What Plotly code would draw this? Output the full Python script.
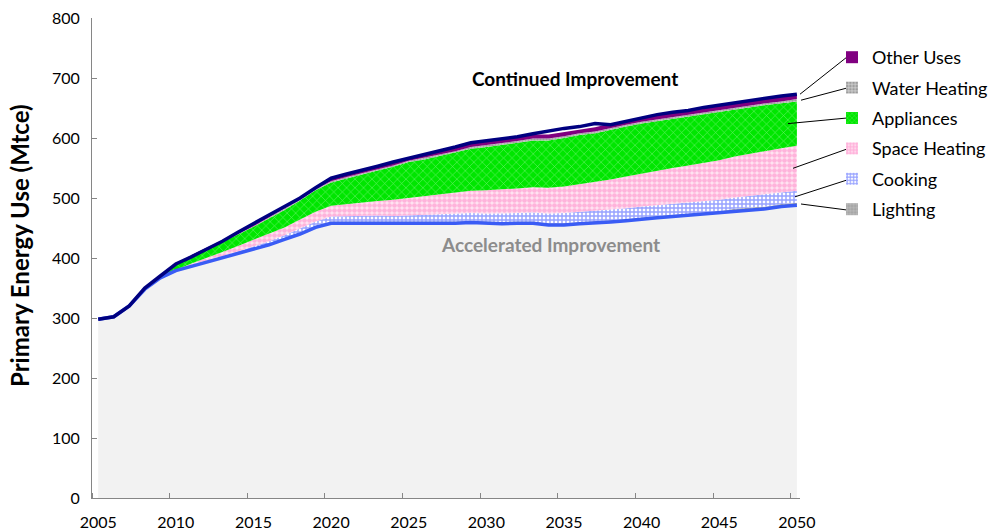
import plotly.graph_objects as go

years = list(range(2005, 2051))

accelerated = [298, 302, 320, 348, 367, 379, 386, 393, 400, 407,
               414, 422, 431, 440, 451, 458, 458, 458, 458, 457,
               457, 457, 457, 458, 459, 458, 457, 458, 458, 455,
               455, 457, 458, 460, 462, 465, 467, 469, 471, 473,
               475, 478, 480, 482, 486, 488]
lighting = [0, 0, 0, 0, 0, 0, 1, 1, 1, 2,
            2, 2, 2, 3, 3, 3, 3, 3, 3, 3,
            3, 3, 3, 3, 3, 3, 3, 3, 3, 3,
            3, 3, 3, 3, 3, 3, 3, 3, 3, 3,
            3, 4, 4, 4, 4, 4]
cooking = [0, 0, 0, 0, 0, 0, 1, 1, 2, 2,
           3, 4, 5, 6, 7, 8, 9, 9, 10, 10,
           11, 11, 12, 12, 13, 13, 14, 14, 15, 16,
           17, 17, 17, 18, 18, 18, 18, 19, 19, 19,
           19, 19, 20, 20, 20, 20]
space_heating = [0, 0, 0, 0, 0, 1, 3, 5, 7, 9,
                 11, 12, 13, 15, 16, 18, 20, 22, 24, 27,
                 29, 31, 33, 35, 37, 39, 40, 41, 42, 43,
                 44, 46, 48, 50, 53, 55, 57, 59, 61, 63,
                 66, 68, 70, 72, 73, 75]
appliances = [0, 0, 0, 1, 3, 8, 11, 14, 16, 19,
              22, 26, 29, 32, 36, 39, 43, 47, 51, 55,
              60, 62, 65, 67, 70, 72, 74, 76, 78, 79,
              81, 82, 82, 83, 83, 83, 83, 82, 82, 81,
              80, 79, 78, 77, 75, 74]
water_heating = [0, 0, 0, 0, 0, 0, 1, 1, 1, 1,
                 1, 2, 2, 2, 2, 2, 2, 2, 2, 2,
                 2, 3, 3, 3, 3, 3, 3, 3, 3, 3,
                 3, 3, 3, 3, 3, 3, 3, 3, 3, 3,
                 3, 3, 3, 3, 3, 4]
other_uses = [0, 0, 0, 0, 0, 1, 2, 2, 2, 2,
              2, 3, 3, 3, 3, 3, 4, 4, 4, 4,
              4, 5, 5, 5, 6, 6, 7, 7, 7, 7,
              7, 7, 7, 7, 7, 7, 8, 8, 8, 8,
              8, 8, 8, 8, 8, 8]
continued = [298, 302, 320, 350, 370, 390, 402, 415, 428, 443,
             457, 471, 485, 500, 517, 533, 540, 546, 553, 560,
             566, 572, 578, 585, 592, 595, 598, 602, 607, 612,
             616, 619, 624, 622, 628, 634, 639, 643, 646, 651,
             655, 659, 663, 667, 670, 673]

x_ticks = [2005, 2010, 2015, 2020, 2025, 2030, 2035, 2040, 2045, 2050]
y_ticks = [0, 100, 200, 300, 400, 500, 600, 700, 800]

FONT = "Lato"

components = [
    ("Lighting", lighting, dict(shape="+", fgcolor="white", bgcolor="#a6a6a6", size=8, solidity=0.2)),
    ("Cooking", cooking, dict(shape="+", fgcolor="#2f45ff", bgcolor="white", size=4, solidity=0.6)),
    ("Space Heating", space_heating, dict(shape=".", fgcolor="#ff7fc4", bgcolor="#ffe6f2", size=5, solidity=0.7)),
    ("Appliances", appliances, dict(shape="x", fgcolor="#d8ffd8", bgcolor="#00e600", size=6, solidity=0.18)),
    ("Water Heating", water_heating, dict(shape=".", fgcolor="#707070", bgcolor="#c8c8c8", size=3, solidity=0.5)),
    ("Other Uses", other_uses, dict(shape="", fgcolor="#800080", bgcolor="#800080", size=4, solidity=0.5)),
]

fig = go.Figure()

fig.add_trace(go.Scatter(x=years, y=accelerated, stackgroup="s", mode="lines",
                         line=dict(width=0), fillcolor="#f2f2f2",
                         showlegend=False, hoverinfo="skip"))
for name, vals, pat in components:
    fig.add_trace(go.Scatter(x=years, y=vals, stackgroup="s", mode="lines",
                             line=dict(width=0), fillcolor=pat["bgcolor"],
                             fillpattern=pat, name=name, showlegend=False))

fig.add_trace(go.Scatter(x=years, y=accelerated, mode="lines",
                         line=dict(color="#3a5cf5", width=3.5),
                         showlegend=False, name="Accelerated Improvement"))
fig.add_trace(go.Scatter(x=years, y=continued, mode="lines",
                         line=dict(color="#000080", width=3.5),
                         showlegend=False, name="Continued Improvement"))

# legend entries (square swatches)
for i, (name, vals, pat) in enumerate(reversed(components)):
    fig.add_trace(go.Bar(x=[None], y=[None], name=name, legendgroup=f"g{i}",
                         marker=dict(color=pat["bgcolor"],
                                     pattern=dict(shape=pat["shape"], fgcolor=pat["fgcolor"],
                                                  bgcolor=pat["bgcolor"], size=4,
                                                  solidity=pat["solidity"]),
                                     line=dict(width=0))))

# leader lines from legend labels into the bands at 2050
label_py = [57, 88, 118, 149, 180, 210]  # pixel rows of legend labels (top to bottom)
head_px = [800, 801, 788, 793, 795, 801]
plot_l, plot_w, plot_t, plot_h = 92, 708, 18, 480
idx = len(years) - 1
bottoms = []
cum = accelerated[idx]
for name, vals, pat in components:
    bottoms.append((cum, cum + vals[idx]))
    cum += vals[idx]
bands = list(reversed(bottoms))
for k, (lo, hi) in enumerate(bands):
    yv = hi if k == 0 else (lo + hi) / 2
    tail_val = (plot_t + plot_h - label_py[k]) / plot_h * 800
    fig.add_shape(type="line", xref="paper", yref="y",
                  x0=(head_px[k] - plot_l) / plot_w, y0=yv,
                  x1=(847 - plot_l) / plot_w, y1=tail_val,
                  line=dict(color="black", width=1))

fig.add_annotation(x=2035.7, y=700, text="<b>Continued Improvement</b>", showarrow=False,
                   font=dict(family=FONT, size=19, color="black"))
fig.add_annotation(x=2034.1, y=422, text="<b>Accelerated Improvement</b>", showarrow=False,
                   font=dict(family=FONT, size=19, color="#8c8c8c"))
# y-axis title
fig.add_annotation(xref="paper", yref="paper", x=(19 - plot_l) / plot_w,
                   y=(plot_t + plot_h - 246) / plot_h, textangle=-90, showarrow=False,
                   xanchor="center", yanchor="middle",
                   text="<b>Primary Energy Use (Mtce)</b>",
                   font=dict(family=FONT, size=24, color="black"))

fig.update_layout(
    width=991, height=531,
    margin=dict(l=92, r=191, t=18, b=33, autoexpand=False),
    paper_bgcolor="white", plot_bgcolor="white",
    font=dict(family=FONT, size=16, color="black"),
    showlegend=True,
    legend=dict(x=(832 - plot_l) / plot_w, y=(plot_t + plot_h - 39) / plot_h,
                xanchor="left", yanchor="top", traceorder="grouped",
                tracegroupgap=4, font=dict(family=FONT, size=18, color="black"),
                bgcolor="rgba(0,0,0,0)", itemwidth=30),
    xaxis=dict(range=[2004.6, 2050.2], tickvals=x_ticks, ticktext=[str(v) for v in x_ticks],
               ticks="", showgrid=False, zeroline=False, automargin=False,
               showline=True, linecolor="#868686", linewidth=1,
               ticklabelstandoff=10, tickfont=dict(size=16),
               minor=dict(tick0=2004.6, dtick=5, ticks="inside", ticklen=5,
                          tickcolor="#868686", showgrid=False)),
    yaxis=dict(range=[0, 800], tickvals=y_ticks, ticks="inside", ticklen=5,
               tickcolor="#868686", showgrid=False, zeroline=False, automargin=False,
               showline=True, linecolor="#868686", linewidth=1,
               ticklabelstandoff=8, tickfont=dict(size=16)),
)

fig.write_html("out.html", config={"displayModeBar": False},
               post_script="document.body.style.margin='0';")
